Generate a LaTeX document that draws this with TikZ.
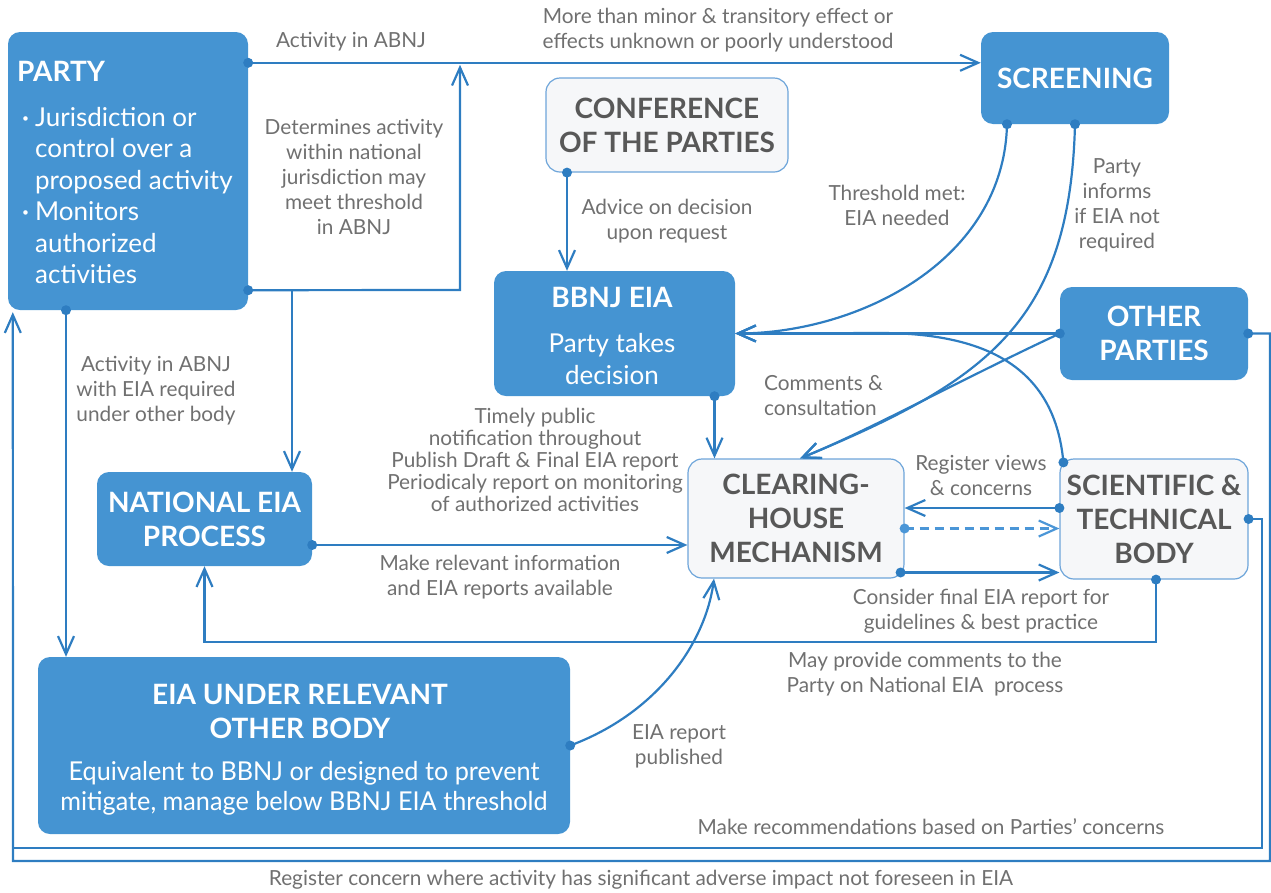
\documentclass[tikz,border=0pt]{standalone}
\usepackage{fontspec}
\setmainfont{Lato}
\newfontfamily\condfont{Lato}[FakeStretch=0.97]
\usetikzlibrary{arrows.meta}
\definecolor{boxblue}{RGB}{69,148,210}
\definecolor{lineblue}{RGB}{46,125,193}
\definecolor{dashblue}{RGB}{75,150,215}
\definecolor{lightfill}{RGB}{246,247,249}
\definecolor{lightborder}{RGB}{110,165,218}
\definecolor{labgray}{RGB}{112,112,112}
\definecolor{hdgray}{RGB}{88,88,88}
\newcommand\hdfont{\fontsize{28}{34}\selectfont\bfseries}
\newcommand\bdfont{\fontsize{26}{31.5}\selectfont}
\newcommand\lbfont{\fontsize{20.8}{25}\selectfont}
\newcommand\lbtight{\fontsize{20.8}{22.2}\selectfont}
\newcommand\condbd{\condfont\fontsize{26}{30}\selectfont}
\newcommand\bul{\raisebox{4pt}{\fontsize{12}{12}\selectfont •}}
\tikzset{
 bbox/.style={fill=boxblue, rounded corners=12pt, text=white, font=\hdfont, align=center, inner sep=0pt},
 lbox/.style={fill=lightfill, draw=lightborder, line width=1.2pt, rounded corners=14pt, text=hdgray, font=\hdfont, align=center, inner sep=0pt},
 wtxt/.style={text=white, inner sep=0pt},
 lbl/.style={text=labgray, font=\lbfont, align=center, inner sep=0pt},
 conn/.style={draw=lineblue, line width=2.2pt, -{Straight Barb[length=18pt,width=16pt]}},
 plain/.style={draw=lineblue, line width=2.2pt},
 dotc/.style={fill=lineblue},
}
\begin{document}
\begin{tikzpicture}[x=1pt,y=-1pt]
\useasboundingbox (0,0) rectangle (1271,892);

% ---------- boxes ----------
\node[bbox, minimum width=240pt, minimum height=278pt] (party) at (128,171) {};
\node[wtxt, anchor=west, font=\hdfont] (partyhd) at (17,71) {PARTY};
\node[wtxt, anchor=north west, font=\bdfont, align=left] (partybody) at (22,104) {%
\begin{tabular}{@{}l@{\hspace{6pt}}l@{}}
\bul & Jurisdiction or\\
 & control over a\\
 & proposed activity\\
\bul & Monitors\\
 & authorized\\
 & activities
\end{tabular}};

\node[bbox, minimum width=188pt, minimum height=92pt] (screening) at (1075,78) {SCREENING};
\node[lbox, minimum width=242pt, minimum height=94pt] (cop) at (667,125) {CONFERENCE\\OF THE PARTIES};
\node[bbox, minimum width=241pt, minimum height=125pt] (bbnj) at (614.5,333.5) {};
\node[wtxt, font=\hdfont] (bbnjhd) at (612,297) {BBNJ EIA};
\node[wtxt, font=\bdfont, align=center] (bbnjbd) at (612,359) {Party takes\\decision};
\node[bbox, minimum width=188pt, minimum height=93pt] (other) at (1154,333.5) {OTHER\\PARTIES};
\node[bbox, minimum width=215pt, minimum height=94pt] (national) at (204.5,519) {NATIONAL EIA\\PROCESS};
\node[lbox, minimum width=216pt, minimum height=119pt] (ch) at (796,518.5) {CLEARING-\\HOUSE\\MECHANISM};
\node[lbox, minimum width=188pt, minimum height=120pt] (sci) at (1154,519) {SCIENTIFIC \&\\TECHNICAL\\BODY};
\node[bbox, minimum width=532pt, minimum height=177pt] (eiaother) at (304,745.5) {};
\node[wtxt, font=\hdfont, align=center] (eiahd) at (300,711) {EIA UNDER RELEVANT\\OTHER BODY};
\node[wtxt, font=\condbd, align=center] (eiabd) at (304,788) {Equivalent to BBNJ or designed to prevent\\mitigate, manage below BBNJ EIA threshold};

% ---------- coordinates ----------
\coordinate (pA) at ([yshift=-31pt]party.north east);
\coordinate (pB) at ([yshift=20pt]party.south east);
\coordinate (kB) at (460,290);
\coordinate (kN) at (292,290);
\coordinate (pC) at ([xshift=-62pt]party.south);
\coordinate (cS) at ([xshift=-100pt]cop.south);
\coordinate (sc1) at ([xshift=-68pt]screening.south);
\coordinate (sc2) at (screening.south);
\coordinate (bE) at (bbnj.east);
\coordinate (chT) at ([xshift=4pt]ch.north);
\coordinate (sTL) at ([xshift=4pt,yshift=-4pt]sci.north west);
\coordinate (bB) at ([xshift=100pt]bbnj.south);
\coordinate (nR) at ([yshift=-26pt]national.east);
\coordinate (sL1) at ([yshift=11pt]sci.west);
\coordinate (cR) at ([yshift=-10pt]ch.east);
\coordinate (cR2) at ([xshift=-4pt,yshift=-54pt]ch.east);
\coordinate (sB) at ([xshift=2pt]sci.south);
\coordinate (kS) at (1156,642);
\coordinate (chB) at ([xshift=-82pt]ch.south);
\coordinate (rOut) at (1270,861);
\coordinate (lOut) at (13,861);
\coordinate (rIn) at (1262,848);
\coordinate (lIn) at (13,848);
\coordinate (pL) at ([xshift=5pt,yshift=-2pt]party.south west);

% ---------- connectors ----------
\draw[conn] (pA) -- (pA -| screening.west);
\draw[conn, shorten >=2pt] (pB) -- (kB) -- (kB |- pA);
\draw[conn] (kN) -- (kN |- national.north);
\draw[conn] (pC) -- (pC |- eiaother.north);
\draw[conn] (cS) -- (cS |- bbnj.north);
\draw[conn] (sc1) .. controls (1004,260) and (860,333) .. (bE);
\draw[conn] (sc2) .. controls (1070,320) and (990,380) .. (chT);
\draw[conn] (other.west) -- (bE);
\draw[conn] (other.west) .. controls (960,380) and (870,430) .. (chT);
\draw[conn] (sTL) .. controls (1055,370) and (990,333) .. (880,333) -- (bE);
\draw[conn] (bB) -- (bB |- ch.north);
\draw[conn] (nR) -- (nR -| ch.west);
\draw[conn] (sL1) -- (sL1 -| ch.east);
\draw[conn, draw=dashblue, dash pattern=on 9pt off 6pt] (cR) -- (cR -| sci.west);
\draw[conn] (cR2) -- (cR2 -| sci.west);
\draw[conn] (sB) -- (kS) -| (national.south);
\draw[conn] (eiaother.east) .. controls (660,712) and (706,640) .. (chB);
\draw[plain] (sci.east) -| (rIn) -- (lIn);
\draw[conn] (other.east) -| (rOut) -- (lOut) -- (pL);

% ---------- dots ----------
\foreach \p in {pA,pB,pC,cS,sc1,sc2,other.west,other.east,sTL,bB,nR,sL1,cR2,sB,sci.east,eiaother.east}
  \fill[dotc] (\p) circle[radius=5pt];
\fill[dashblue] (cR) circle[radius=5pt];

% ---------- labels ----------
\node[lbl] (l1) at (351,42) {Activity in ABNJ};
\node[lbl] (l2) at (718,30) {More than minor \& transitory effect or\\effects unknown or poorly understood};
\node[lbl] (l3) at (354,177) {Determines activity\\within national\\jurisdiction may\\meet threshold\\in ABNJ};
\node[lbl] (l4) at (667,221) {Advice on decision\\upon request};
\node[lbl] (l5) at (897,205) {Threshold met:\\EIA needed};
\node[lbl] (l6) at (1117,205) {Party\\informs\\if EIA not\\required};
\node[lbl] (l7) at (156,391) {Activity in ABNJ\\with EIA required\\under other body};
\node[lbl, font=\lbtight] (l8) at (535,460) {Timely public\\notification throughout\\Publish Draft \& Final EIA report\\Periodicaly report on monitoring\\of authorized activities};
\node[lbl, align=left, anchor=west] (l9) at (764,396) {Comments \&\\consultation};
\node[lbl] (l10) at (981,475) {Register views\\\& concerns};
\node[lbl] (l11) at (500,577) {Make relevant information\\and EIA reports available};
\node[lbl] (l12) at (981,611) {Consider final EIA report for\\guidelines \& best practice};
\node[lbl] (l13) at (925,674) {May provide comments to the\\Party on National EIA\ \ process};
\node[lbl] (l14) at (679,746) {EIA report\\published};
\node[lbl] (l15) at (931,827) {Make recommendations based on Parties’ concerns};
\node[lbl] (l16) at (641,880) {Register concern where activity has significant adverse impact not foreseen in EIA};
\end{tikzpicture}
\end{document}
